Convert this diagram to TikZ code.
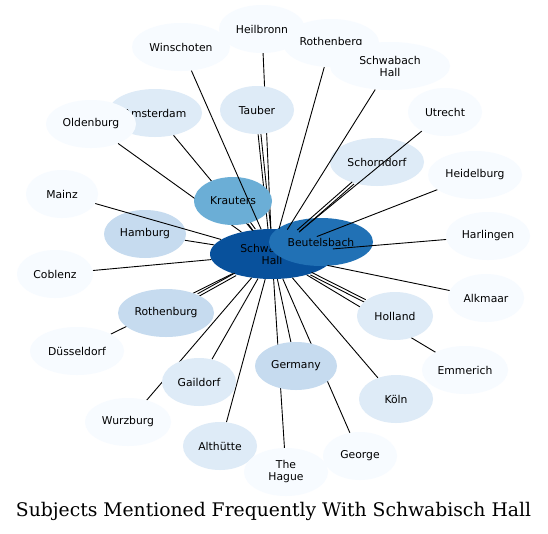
\documentclass[tikz,border=0pt]{standalone}
\usepackage{fontspec}
\newfontfamily\nodefont{DejaVu Sans}
\newfontfamily\titlefont{DejaVu Serif}
\usetikzlibrary{shapes.geometric}
\pgfdeclarelayer{canvas}
\pgfdeclarelayer{bottom}
\pgfdeclarelayer{edges}
\pgfdeclarelayer{top}
\pgfsetlayers{canvas,bottom,edges,main,top}
\definecolor{bA}{HTML}{F7FBFF}
\definecolor{bB}{HTML}{DEEBF7}
\definecolor{bC}{HTML}{C6DBEF}
\definecolor{bD}{HTML}{6BAED6}
\definecolor{bE}{HTML}{2171B5}
\definecolor{bF}{HTML}{08519C}
\begin{document}
\begin{tikzpicture}[x=1pt,y=-1pt,
  blob/.style={ellipse, inner sep=0pt, minimum height=48pt,
    font=\nodefont\fontsize{10.8}{12}\selectfont, align=center, text=black},
  edge/.style={draw=black, line width=0.9pt}]
\useasboundingbox (0,0) rectangle (548,533);
\begin{pgfonlayer}{canvas}
\fill[white] (0,0) rectangle (548,533);
\end{pgfonlayer}
% nodes drawn below the connectors
\begin{pgfonlayer}{bottom}
\node[blob, fill=bF, minimum width=124pt, minimum height=50pt] (sh) at (272,254) {Schwabisch\\Hall};
\node[blob, fill=bE, minimum width=104pt] (beu) at (321,242) {Beutelsbach};
\node[blob, fill=bB, minimum width=94pt] (sch) at (377,162) {Schorndorf};
\end{pgfonlayer}
% other nodes
\node[blob, fill=bA, minimum width=98pt] (win) at (181,47) {Winschoten};
\node[blob, fill=bA, minimum width=86pt] (hei) at (262,29) {Heilbronn};
\node[blob, fill=bA, minimum width=96pt] (rtb) at (331,43) {Rothenberg};
\node[blob, fill=bA, minimum width=120pt] (swb) at (390,66) {Schwabach\\Hall};
\node[blob, fill=bA, minimum width=74pt] (utr) at (445,112) {Utrecht};
\node[blob, fill=bB, minimum width=74pt] (tau) at (257,110) {Tauber};
\node[blob, fill=bB, minimum width=94pt] (ams) at (155,113) {Amsterdam};
\node[blob, fill=bA, minimum width=90pt] (old) at (91,124) {Oldenburg};
\node[blob, fill=bA, minimum width=72pt] (mai) at (62,194) {Mainz};
\node[blob, fill=bC, minimum width=82pt] (ham) at (145,234) {Hamburg};
\node[blob, fill=bA, minimum width=76pt] (cob) at (55,274) {Coblenz};
\node[blob, fill=bD, minimum width=78pt] (kra) at (233,201) {Krauters};
\node[blob, fill=bA, minimum width=94pt] (hdb) at (475,175) {Heidelburg};
\node[blob, fill=bA, minimum width=84pt] (har) at (488,236) {Harlingen};
\node[blob, fill=bA, minimum width=76pt] (alk) at (486,298) {Alkmaar};
\node[blob, fill=bB, minimum width=76pt] (hol) at (395,316) {Holland};
\node[blob, fill=bC, minimum width=96pt] (rob) at (166,313) {Rothenburg};
\node[blob, fill=bA, minimum width=94pt] (dus) at (77,351) {Düsseldorf};
\node[blob, fill=bB, minimum width=74pt] (gai) at (199,382) {Gaildorf};
\node[blob, fill=bC, minimum width=82pt] (ger) at (296,366) {Germany};
\node[blob, fill=bB, minimum width=74pt] (kol) at (396,399) {Köln};
\node[blob, fill=bA, minimum width=86pt] (emm) at (465,370) {Emmerich};
\node[blob, fill=bA, minimum width=86pt] (wur) at (128,422) {Wurzburg};
\node[blob, fill=bB, minimum width=74pt] (alt) at (220,446) {Althütte};
\node[blob, fill=bA, minimum width=74pt] (geo) at (360,456) {George};
\node[blob, fill=bA, minimum width=84pt] (hag) at (286,472) {The\\Hague};
% title
\node[font=\titlefont, inner sep=0pt] (title) at (273.5,511) {\resizebox{515pt}{!}{Subjects Mentioned Frequently With Schwabisch Hall}};
% connectors
\begin{pgfonlayer}{edges}
\draw[edge] (sh) -- (hei);
\draw[edge] (sh) -- (rtb);
\draw[edge] (sh) -- (swb);
\draw[edge] (sh) -- (utr);
\draw[edge, transform canvas={shift={(1.39,-0.15)}}] (sh) -- (tau);
\draw[edge, transform canvas={shift={(-1.39,0.15)}}] (sh) -- (tau);
\draw[edge] (sh) -- (ams);
\draw[edge] (sh) -- (old);
\draw[edge] (sh) -- (ham);
\draw[edge] (sh) -- (cob);
\draw[edge, transform canvas={shift={(1.13,-0.83)}}] (sh) -- (kra);
\draw[edge, transform canvas={shift={(-1.13,0.83)}}] (sh) -- (kra);
\draw[edge, transform canvas={shift={(0.92,1.05)}}] (sh) -- (sch);
\draw[edge, transform canvas={shift={(-0.92,-1.05)}}] (sh) -- (sch);
\draw[edge] (sh) -- (hdb);
\draw[edge] (sh) -- (har);
\draw[edge] (sh) -- (alk);
\draw[edge, transform canvas={shift={(0.63,-1.25)}}] (sh) -- (hol);
\draw[edge, transform canvas={shift={(-0.63,1.25)}}] (sh) -- (hol);
\draw[edge, transform canvas={shift={(0.68,1.22)}}] (sh) -- (rob);
\draw[edge, transform canvas={shift={(-0.68,-1.22)}}] (sh) -- (rob);
\draw[edge] (sh) -- (dus);
\draw[edge] (sh) -- (gai);
\draw[edge] (sh) -- (ger);
\draw[edge] (sh) -- (kol);
\draw[edge] (sh) -- (emm);
\draw[edge] (sh) -- (wur);
\draw[edge] (sh) -- (alt);
\draw[edge] (sh) -- (geo);
\draw[edge] (sh) -- (hag);
\end{pgfonlayer}
\begin{pgfonlayer}{top}
\draw[edge] (sh) -- (win);
\draw[edge] (sh) -- (mai);
\end{pgfonlayer}
\end{tikzpicture}
\end{document}
